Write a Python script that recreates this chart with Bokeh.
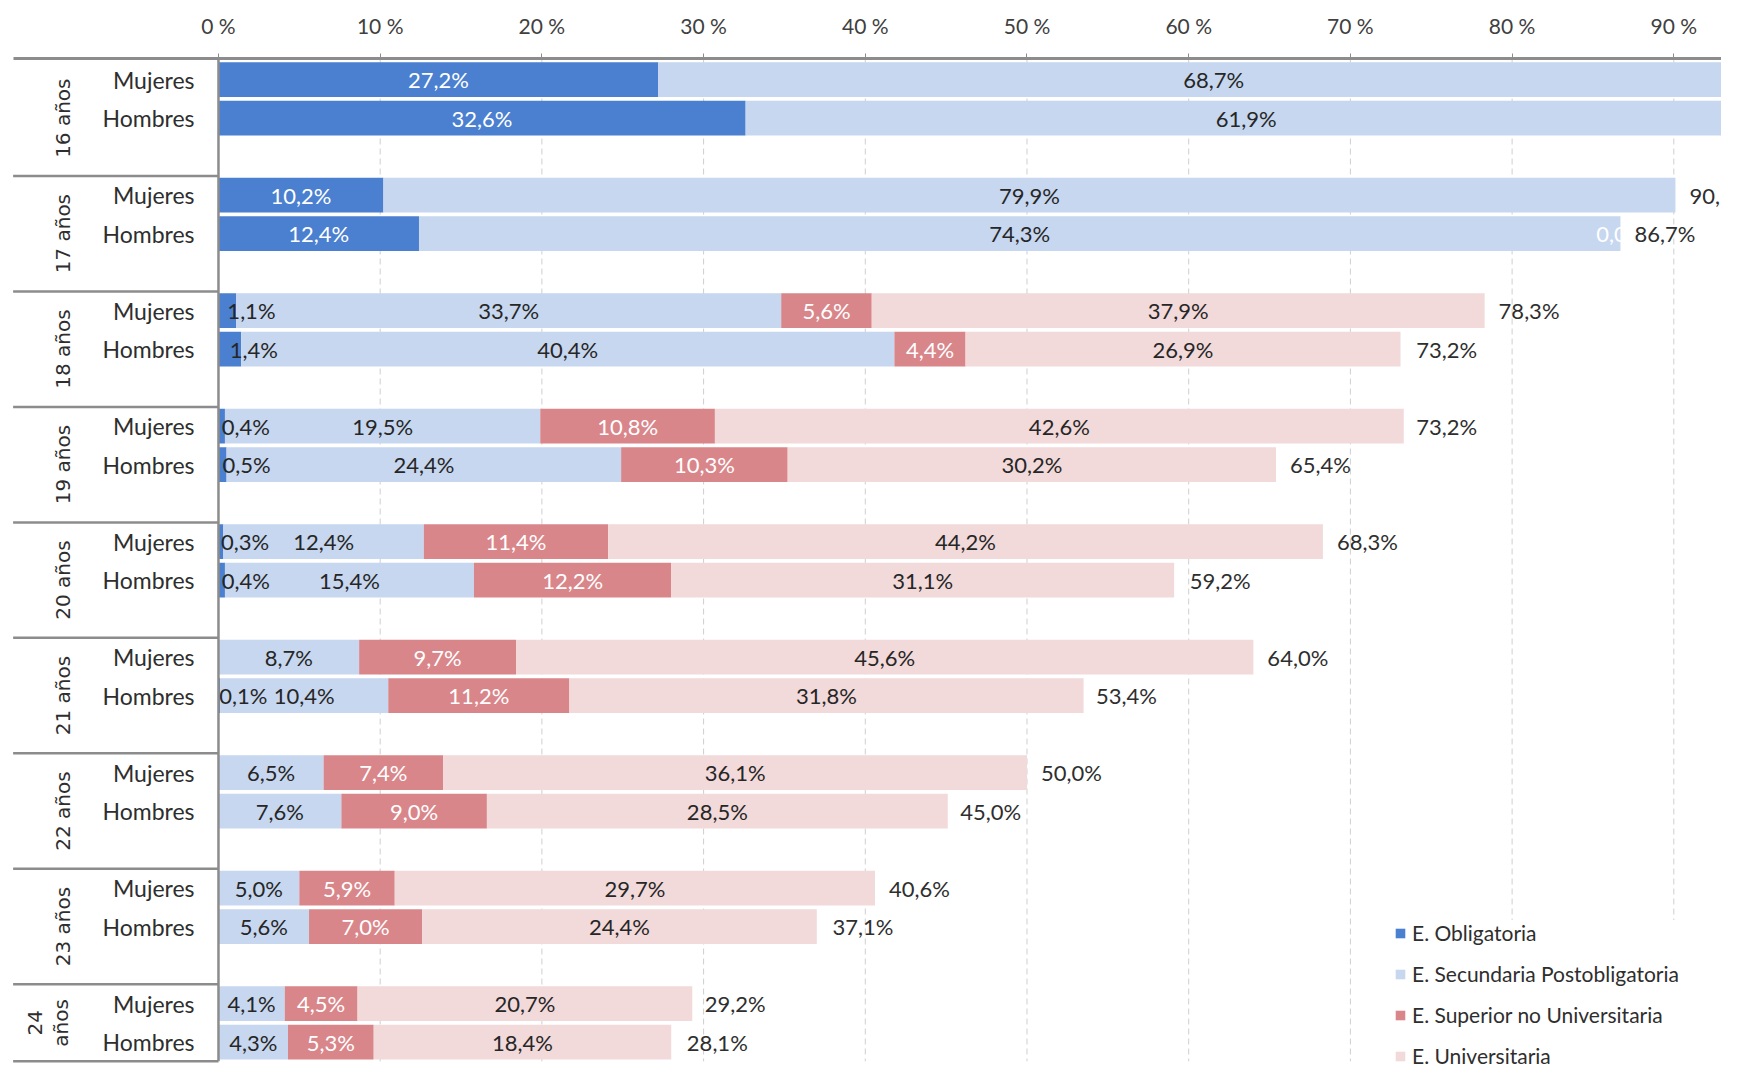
import math
from bokeh.plotting import figure
from bokeh.models import Range1d, FixedTicker, ColumnDataSource, Legend, LegendItem
from bokeh.core.properties import value
from bokeh.embed import file_html
from bokeh.resources import INLINE

# ---------------- data ----------------
groups = ["16 años", "17 años", "18 años", "19 años", "20 años", "21 años", "22 años", "23 años", "24\naños"]
sexes = ["Mujeres", "Hombres"]
series_names = ["E. Obligatoria", "E. Secundaria Postobligatoria",
                "E. Superior no Universitaria", "E. Universitaria"]

# rows in order: 16 Mujeres, 16 Hombres, 17 Mujeres, 17 Hombres, ...
obligatoria = [27.2, 32.6, 10.2, 12.4, 1.1, 1.4, 0.4, 0.5, 0.3, 0.4, None, 0.1,
               None, None, None, None, None, None]
secundaria = [68.7, 61.9, 79.9, 74.3, 33.7, 40.4, 19.5, 24.4, 12.4, 15.4, 8.7, 10.4,
              6.5, 7.6, 5.0, 5.6, 4.1, 4.3]
superior = [None, None, None, 0.0, 5.6, 4.4, 10.8, 10.3, 11.4, 12.2, 9.7, 11.2,
            7.4, 9.0, 5.9, 7.0, 4.5, 5.3]
universitaria = [None, None, None, None, 37.9, 26.9, 42.6, 30.2, 44.2, 31.1, 45.6, 31.8,
                 36.1, 28.5, 29.7, 24.4, 20.7, 18.4]
totales = [None, None, 90.1, 86.7, 78.3, 73.2, 73.2, 65.4, 68.3, 59.2, 64.0, 53.4,
           50.0, 45.0, 40.6, 37.1, 29.2, 28.1]
ticks = [0, 10, 20, 30, 40, 50, 60, 70, 80, 90]

# ---------------- styles ----------------
colors = ["#4a80cf", "#c6d7ef", "#d9868a", "#f2d9da"]
label_colors = ["white", "#262626", "white", "#262626"]
TXT = "#2e2e2e"
AXC = "#8c8c8c"
FONT = "Lato"

def fmt(v):
    return ("%.1f" % v).replace(".", ",") + "%"

n_rows = len(secundaria)
row_y = [3 * (i // 2) + 0.5 + (i % 2) for i in range(n_rows)]

p = figure(width=1721, height=1072, output_backend="svg", toolbar_location=None,
           x_range=Range1d(-13.48, 92.95), y_range=Range1d(26.29, -0.05),
           x_axis_location="above", y_axis_location=None,
           min_border_left=0, min_border_right=0, min_border_bottom=0, min_border_top=58)
p.outline_line_color = None
p.xgrid.visible = False
p.ygrid.visible = False
p.background_fill_color = "white"
p.border_fill_color = "white"

ax = p.xaxis[0]
ax.ticker = FixedTicker(ticks=ticks)
ax.major_label_overrides = {t: "%d %%" % t for t in ticks}
ax.bounds = (-12.7, 100)
ax.axis_line_color = AXC
ax.axis_line_width = 3
ax.major_tick_line_color = AXC
ax.major_tick_out = 5
ax.major_tick_in = 0
ax.minor_tick_line_color = None
ax.major_label_text_font = FONT
ax.major_label_text_font_size = "21px"
ax.major_label_text_color = "#404040"
ax.major_label_standoff = 16

# dashed grid lines
y_top, y_bot = -0.05, 26.0
gx = ticks[1:]
p.segment(x0=gx, x1=gx, y0=[y_top] * len(gx), y1=[y_bot] * len(gx),
          line_color="#cfcfcf", line_width=1, line_dash="6 4")

# stacked bars
all_series = [obligatoria, secundaria, superior, universitaria]
lefts = [0.0] * n_rows
renderers = []
lab_x, lab_y, lab_t, lab_c, lab_a = [], [], [], [], []
for k, ser in enumerate(all_series):
    L, R, Y = [], [], []
    for i, v in enumerate(ser):
        if v is None:
            continue
        L.append(lefts[i]); R.append(lefts[i] + v); Y.append(row_y[i])
        if k == 0 and v < 2:
            lab_x.append(lefts[i] + v / 2); lab_a.append("left"); lab_c.append("#262626")
        else:
            lab_x.append(lefts[i] + v / 2); lab_a.append("center"); lab_c.append(label_colors[k])
        lab_y.append(row_y[i]); lab_t.append(fmt(v))
        lefts[i] += v
    src = ColumnDataSource(dict(left=L, right=R, y=Y))
    r = p.hbar(y="y", left="left", right="right", height=0.9, source=src,
               fill_color=colors[k], line_color=None)
    renderers.append(r)

p.text(x="x", y="y", text="t", text_color="c", text_align="a", source=ColumnDataSource(
    dict(x=lab_x, y=lab_y, t=lab_t, c=lab_c, a=lab_a)),
    text_font=value(FONT), text_font_size="22px", text_baseline="middle")

# totals
tx = [t for t in totales if t is not None]
ty = [row_y[i] for i, t in enumerate(totales) if t is not None]
tt = [fmt(t) for t in totales if t is not None]
p.text(x=tx, y=ty, text=tt, x_offset=14, text_align="left", text_baseline="middle",
       text_font=value(FONT), text_font_size="22px", text_color=TXT)

# left side: sex labels
p.text(x=[-1.48] * n_rows, y=row_y, text=[sexes[i % 2] for i in range(n_rows)],
       text_align="right", text_baseline="middle", text_font=value(FONT),
       text_font_size="23px", text_color=TXT)

# group labels (rotated)
gxs, gys = [], []
for g, name in enumerate(groups):
    nl = name.count("\n") + 1
    gxs.append(-9.6 - (nl - 1) * 0.93)
    gys.append(3 * g + 1.5 if g < len(groups) - 1 else 3 * g + 1.0)
p.text(x=gxs, y=gys, text=groups, angle=math.pi / 2, text_align="center",
       text_baseline="middle", text_font=value("DejaVu Sans"), text_font_size="20px",
       text_color=TXT, text_line_height=1.1)

# separators and vertical axis line
sep_y = [3 * g for g in range(1, len(groups))] + [y_bot]
p.segment(x0=[-12.7] * len(sep_y), x1=[0] * len(sep_y), y0=sep_y, y1=sep_y,
          line_color=AXC, line_width=2.5)
p.segment(x0=[0], x1=[0], y0=[y_top], y1=[y_bot], line_color=AXC, line_width=2.5)

legend = Legend(items=[LegendItem(label=series_names[k], renderers=[renderers[k]]) for k in range(4)],
                location=(1394, 4), glyph_width=12, glyph_height=12, label_height=24,
                spacing=16, padding=4, margin=0, border_line_color=None,
                background_fill_color="white", background_fill_alpha=1.0,
                label_text_font=FONT, label_text_font_size="21px", label_text_color=TXT,
                label_standoff=6)
p.add_layout(legend)

open("out.html", "w").write(file_html(p, INLINE))
